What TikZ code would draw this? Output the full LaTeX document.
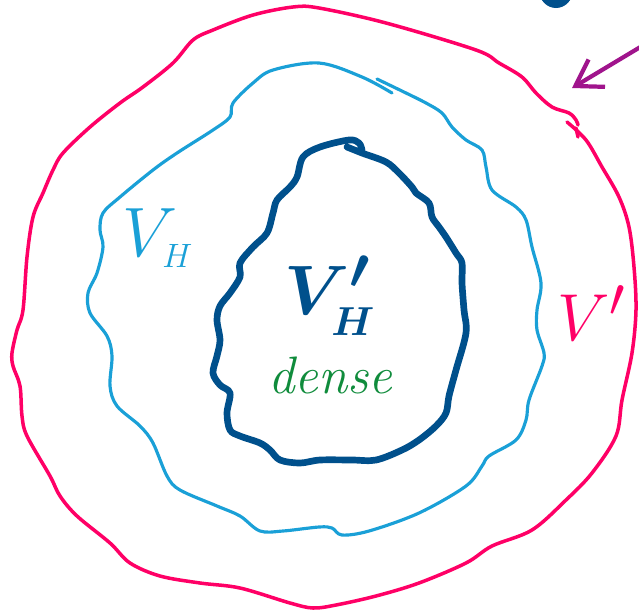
\documentclass[tikz,border=0pt]{standalone}
\usepackage{amsmath,amssymb}
\usepackage{xcolor}
\usepackage{tikz}
\usetikzlibrary{arrows.meta}
\definecolor{rimpink}{RGB}{255,0,102}
\definecolor{midblue}{RGB}{26,160,215}
\definecolor{deepblue}{RGB}{0,80,140}
\definecolor{densegreen}{RGB}{16,140,60}
\definecolor{tagpurple}{RGB}{160,20,140}
\newcommand{\subtag}[2]{\mbox{\fontsize{#1}{#1}\selectfont$#2$}}
\tikzset{
  rimline/.style   = {rimpink,line width=2pt,line cap=round,line join=round},
  midline/.style   = {midblue,line width=1.8pt,line cap=round,line join=round},
  coreline/.style  = {deepblue,line width=3.8pt,line cap=round,line join=round},
  tagarr/.style    = {-{Straight Barb[length=5mm,width=6.4mm,line width=2.4pt]},tagpurple,line width=2.4pt,line cap=round},
  setlabel/.style  = {inner sep=0pt,scale=1.6,font=\fontsize{24.88}{28}\selectfont}
}

\begin{document}
\begin{tikzpicture}[x=0.02cm,y=-0.02cm]
  \useasboundingbox (0,0) rectangle (639,613);
  \clip (0,0) rectangle (639,613);
  \draw[rimline] plot[smooth,tension=0.55] coordinates {
    (567,122) (586,140) (602,167) (619,197) (629,227) (634,267) (636,310)
    (632,353) (622,400) (616,436) (592,473) (566,500) (532,530) (492,546)
    (466,563) (419,583) (376,596) (336,605) (313,608) (290,603) (240,588)
    (200,583) (160,576) (130,563) (110,543) (77,516) (60,496) (50,476)
    (27,436) (22,416) (20,386) (13,366) (12,353) (17,330) (23,310) (27,257)
    (33,217) (43,193) (53,170) (63,153) (90,127) (120,103) (143,87) (173,63)
    (193,40) (213,30) (253,15) (293,7) (319,8) (386,23) (476,50) (499,63)
    (522,77) (536,93) (552,107) (569,113) (576,120) (578,125)};
  \draw[rimline] (576,128) -- (578,137);
  \draw[midline] plot[smooth,tension=0.55] coordinates {
    (377,79) (406,93) (426,103) (442,113) (452,127) (466,140) (482,150)
    (486,167) (492,190) (516,207) (526,220) (532,247) (541,283) (537,310)
    (537,330) (544,353) (542,366) (529,400) (526,420) (516,440) (489,456)
    (482,466) (466,486) (419,513) (369,531) (342,535) (332,528) (319,527)
    (283,531) (260,531) (240,516) (217,506) (180,490) (167,476) (153,443)
    (140,426) (117,406) (110,386) (112,356) (107,336) (90,313) (88,293)
    (97,273) (103,247) (100,230) (103,213) (120,197) (153,170) (177,153)
    (213,130) (230,117) (233,103) (253,83) (273,70) (319,63) (362,77) (392,93)};
  \draw[coreline] plot[smooth,tension=0.55] coordinates {
    (347,147) (362,153) (386,162) (399,173) (412,187) (416,193) (429,203)
    (432,217) (439,227) (446,237) (456,253) (462,263) (462,283) (464,310)
    (466,333) (456,370) (449,396) (446,413) (436,426) (419,440) (402,450)
    (376,460) (352,460) (320,460) (300,463) (280,460) (270,450) (260,443)
    (240,436) (230,430) (227,413) (230,393) (220,385) (213,373) (217,356)
    (220,340) (217,320) (220,306) (230,293) (240,277) (240,263) (253,247)
    (267,233) (273,213) (277,200) (290,187) (297,177) (303,157) (320,147)
    (349,140) (359,143) (362,150)};
  \fill[deepblue] (556,-10) ellipse [x radius=17,y radius=18];
  \node[setlabel,midblue] (vh) at (158,238) {$V_{\subtag{12}{H}}$};
  \node[setlabel,deepblue,font=\boldmath\fontsize{24.88}{28}\selectfont] (vhp) at (330,296) {$V'_{\subtag{14}{H}}$};
  \node[inner sep=0pt,densegreen,font=\itshape\fontsize{30}{34}\selectfont,anchor=base] (dense) at (330,393) {dense};
  \node[setlabel,rimpink,scale=0.95] (vp) at (592,313) {$V'$};
  \coordinate (tailpt) at (642,46);
  \coordinate (tippt) at (572,88);
  \draw[tagarr] (tailpt) -- (tippt);
\end{tikzpicture}
\end{document}
